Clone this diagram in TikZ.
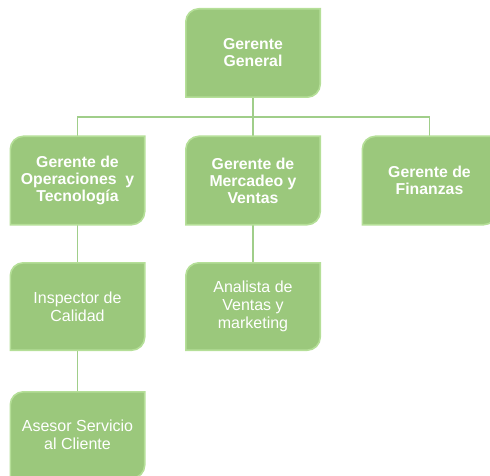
\documentclass[tikz,border=0pt]{standalone}
\usepackage{fontspec}
\setmainfont{Liberation Sans}
\usetikzlibrary{backgrounds}
\definecolor{boxfill}{RGB}{155,200,124}
\definecolor{boxedge}{RGB}{181,223,152}
\definecolor{boxshadow}{RGB}{190,200,184}
\definecolor{linkcol}{RGB}{160,206,138}
\tikzset{
  x=1pt,y=1pt,
  orgbox/.style={minimum width=134pt,minimum height=88pt,inner sep=0pt,align=center,text=white},
  boldtxt/.style={font=\bfseries\fontsize{15.8}{17}\selectfont},
  plaintxt/.style={font=\fontsize{16}{18}\selectfont},
  link/.style={draw=linkcol,line width=1.6pt},
}
\newcommand{\orgshape}[1]{(#1.south west) -- ([yshift=-13pt]#1.north west) arc[start angle=180,end angle=90,radius=13pt] -- (#1.north east) -- ([yshift=13pt]#1.south east) arc[start angle=0,end angle=-90,radius=13pt] -- cycle}
\begin{document}
\begin{tikzpicture}
\useasboundingbox (0,0) rectangle (490,-476);
\clip (0,0) rectangle (490,-476);
\node[orgbox,boldtxt] (g) at (253,-53) {Gerente\\General};
\node[orgbox,boldtxt] (o) at (77.5,-180.5) {Gerente de\\Operaciones\ \ y\\Tecnología};
\node[orgbox,boldtxt] (m) at (253,-180.5) {Gerente de\\Mercadeo y\\Ventas};
\node[orgbox,boldtxt] (f) at (429.5,-180.5) {Gerente de\\Finanzas};
\node[orgbox,plaintxt,minimum height=87pt] (i) at (77.5,-306.5) {Inspector de\\Calidad};
\node[orgbox,plaintxt,minimum height=87pt] (a) at (253,-306.5) {Analista de\\Ventas y\\marketing};
\node[orgbox,plaintxt,minimum height=86pt] (s) at (77.5,-435) {Asesor Servicio\\al Cliente};
\coordinate (bus) at (253,-117);
\begin{pgfonlayer}{background}
\draw[link] (g.south) -- (m.north);
\draw[link] (o.north) |- (bus) -| (f.north);
\draw[link] (o.south) -- (i.north);
\draw[link] (m.south) -- (a.north);
\draw[link] (i.south) -- (s.north);
\foreach \n in {g,o,m,f,i,a,s}{
  \fill[boxshadow,xshift=1.2pt,yshift=-1.8pt] \orgshape{\n};
  \fill[boxfill] \orgshape{\n};
  \draw[boxedge,line width=1.6pt] \orgshape{\n};
}
\end{pgfonlayer}
\end{tikzpicture}
\end{document}
